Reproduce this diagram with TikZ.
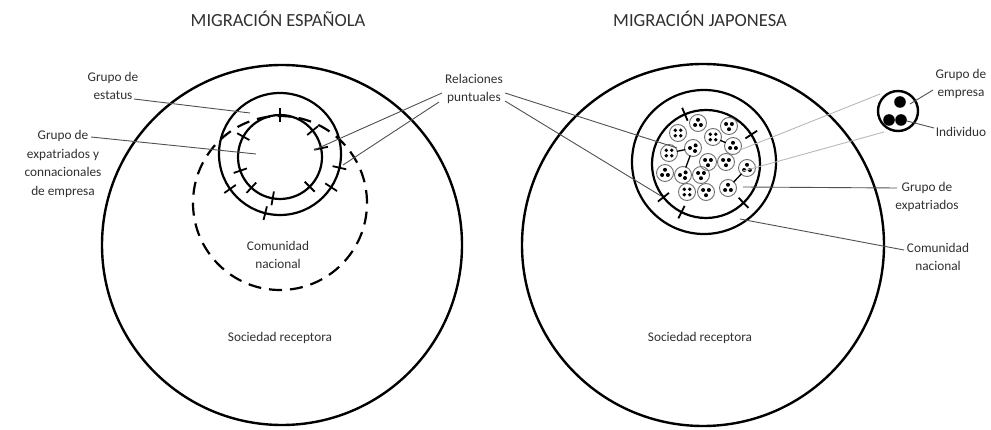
\documentclass[tikz,border=0pt]{standalone}
\usepackage{fontspec}
\setmainfont{Carlito}
\usetikzlibrary{calc}
\definecolor{txt}{HTML}{303030}
\definecolor{lead}{HTML}{505050}
\definecolor{lightlead}{HTML}{B8B8B8}
\definecolor{grpc}{HTML}{707070}
\begin{document}
\begin{tikzpicture}[x=1pt,y=-1pt,
  lbl/.style={font=\fontsize{13.3}{18.5}\selectfont, text=txt, align=center, inner sep=0pt},
  ttl/.style={font=\fontsize{18.5}{20}\selectfont, text=txt, inner sep=0pt},
  big/.style={line width=2.4pt},
  ring/.style={line width=2.2pt},
  tickmark/.style={line width=1.8pt},
  leader/.style={line width=0.9pt, draw=lead},
  faint/.style={line width=0.9pt, draw=lightlead},
  grp/.style={circle, draw=grpc, line width=0.9pt, minimum size=17pt, inner sep=0pt},
  link/.style={line width=1.3pt, shorten <=-1pt, shorten >=-1pt},
  legend/.style={circle, draw=black, line width=2.4pt, minimum size=40pt, inner sep=0pt}]
\useasboundingbox (0,0) rectangle (991,430);

% titles
\node[ttl] (t1) at (278,19) {MIGRACIÓN ESPAÑOLA};
\node[ttl] (t2) at (700,19) {MIGRACIÓN JAPONESA};

% ---------------- left diagram ----------------
\coordinate (Lc) at (282,245);
\coordinate (Ls) at (280,154);
\coordinate (Le) at (280,157);
\coordinate (Ld) at (280,203);
\draw[big] (Lc) circle[radius=180pt];
\draw[ring] (Ls) circle[radius=61pt];
\draw[ring] (Le) circle[radius=42pt];
\draw[ring, dash pattern=on 13pt off 8pt] (Ld) circle[radius=87pt];
\foreach \a in {90,39,12,-45,-100,-133,199,151}
  \draw[tickmark] ($(Le)+(\a:35pt)$) -- ($(Le)+(\a:49pt)$);
\foreach \a in {-13,-33,-104,-145}
  \draw[tickmark] ($(Ls)+(\a:54pt)$) -- ($(Ls)+(\a:68pt)$);

\node[lbl] (lEst) at (113,86) {Grupo de\\estatus};
\node[lbl] (lExp) at (63,164) {Grupo de\\expatriados y\\connacionales\\de empresa};
\node[lbl] (lRel) at (474,89) {Relaciones\\puntuales};
\node[lbl] (lComL) at (278,255) {Comunidad\\nacional};
\node[lbl] (lSocL) at (280,338) {Sociedad receptora};

\coordinate (aEst) at (134,99);   \coordinate (bEst) at (250,113);
\coordinate (aExp) at (91,137);   \coordinate (bExp) at (256,154);
\coordinate (aRl1) at (442,93);   \coordinate (bRl1) at (314,150);
\coordinate (aRl2) at (439,102);  \coordinate (bRl2) at (343,165);
\draw[leader] (aEst) -- (bEst);
\draw[leader] (aExp) -- (bExp);
\draw[leader] (aRl1) -- (bRl1);
\draw[leader] (aRl2) -- (bRl2);

% ---------------- right diagram ----------------
\coordinate (Rc) at (703,245);
\coordinate (Rn) at (704,162);
\coordinate (Rx) at (706,164);
\draw[big] (Rc) circle[radius=181pt];
\draw[ring] (Rn) circle[radius=72pt];
\draw[ring] (Rx) circle[radius=54pt];
\foreach \a in {113,33,-46,-117,-142}
  \draw[tickmark] ($(Rx)+(\a:47pt)$) -- ($(Rx)+(\a:61pt)$);

% small groups
\foreach \n/\x/\y/\p in {1/698/123/0, 2/678/133/2, 3/729/126/1, 4/713/137/2,
  5/733/146/0, 6/669/153/2, 7/693/148/3, 8/708/162/1, 9/726/162/1,
  10/747/168/0, 11/665/173/0, 12/683/175/3, 13/701/175/1, 14/728/188/0,
  15/687/192/2, 16/706/192/1} {
  \node[grp] (g\n) at (\x,\y) {};
  \ifcase\p
    \fill ($(g\n)+(0,-3.2)$) circle[radius=2pt] ($(g\n)+(-2.9,2)$) circle[radius=2pt] ($(g\n)+(2.9,2)$) circle[radius=2pt];
  \or
    \fill ($(g\n)+(-2.9,-2)$) circle[radius=2pt] ($(g\n)+(2.9,-2)$) circle[radius=2pt] ($(g\n)+(0,3.2)$) circle[radius=2pt];
  \or
    \fill ($(g\n)+(-2.7,-2.7)$) circle[radius=1.9pt] ($(g\n)+(2.7,-2.7)$) circle[radius=1.9pt] ($(g\n)+(-2.7,2.7)$) circle[radius=1.9pt] ($(g\n)+(2.7,2.7)$) circle[radius=1.9pt];
  \or
    \fill ($(g\n)+(-3,0)$) circle[radius=2pt] ($(g\n)+(2.6,-2.6)$) circle[radius=2pt] ($(g\n)+(2,3)$) circle[radius=2pt];
  \fi
}
\draw[link] (g6) -- (g7);
\draw[link] (g7) -- (g12);
\draw[link] (g4) -- (g5);
\draw[link] (g10) -- (g14);

% legend
\node[legend] (leg) at (898,111) {};
\fill ($(leg)+(2,-9)$) circle[radius=5.8pt]
      ($(leg)+(-9,9)$) circle[radius=5.8pt]
      ($(leg)+(3,9)$) circle[radius=5.8pt];

\node[lbl] (lEmp) at (961,84) {Grupo de\\empresa};
\node[lbl] (lInd) at (961,132) {Individuo};
\node[lbl] (lGex) at (927,197) {Grupo de\\expatriados};
\node[lbl] (lComR) at (938,257) {Comunidad\\nacional};
\node[lbl] (lSocR) at (700,338) {Sociedad receptora};

\coordinate (aR1) at (505,93);   \coordinate (bR1) at (677,148);
\coordinate (aR2) at (505,101);  \coordinate (bR2) at (661,196);
\draw[leader] (aR1) -- (bR1);
\draw[leader] (aR2) -- (bR2);

\coordinate (fU1) at (880,94);   \coordinate (fU2) at (740,150);
\coordinate (fL1) at (884,132);  \coordinate (fL2) at (743,171);
\draw[faint] (fU1) -- (fU2);
\draw[faint] (fL1) -- (fL2);

\coordinate (aEmp) at (933,90);  \coordinate (bEmp) at (910,104);
\coordinate (aInd) at (934,128); \coordinate (bInd) at (907,121);
\coordinate (aGex) at (897,188); \coordinate (bGex) at (743,187);
\coordinate (aCom) at (904,250); \coordinate (bCom) at (740,219);
\draw[leader] (aEmp) -- (bEmp);
\draw[leader] (aInd) -- (bInd);
\draw[leader] (aGex) -- (bGex);
\draw[leader] (aCom) -- (bCom);
\end{tikzpicture}
\end{document}
